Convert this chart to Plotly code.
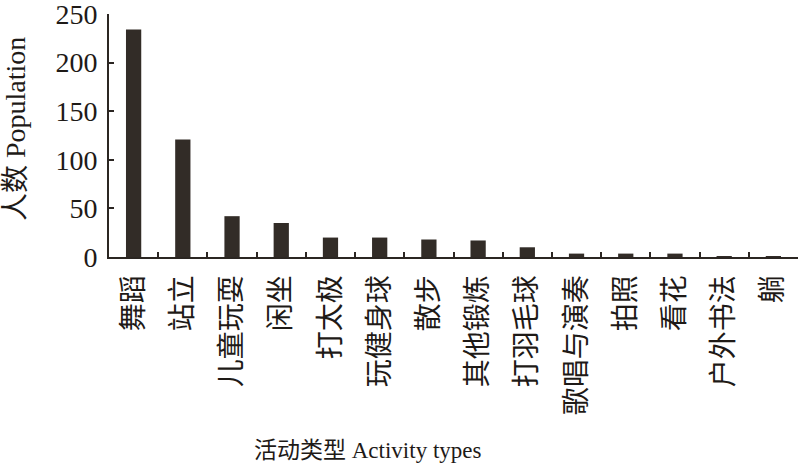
import plotly.graph_objects as go

categories = ["舞蹈", "站立", "儿童玩耍", "闲坐", "打太极", "玩健身球", "散步",
              "其他锻炼", "打羽毛球", "歌唱与演奏", "拍照", "看花", "户外书法", "躺"]
population = [234, 121, 42, 35, 20, 20, 18, 17, 10, 3.5, 3.5, 3.5, 1, 1]
y_ticks = [0, 50, 100, 150, 200, 250]

FONT = "Liberation Serif, Times New Roman, Noto Sans CJK SC, serif"
INK = "#2b2622"

fig = go.Figure(go.Bar(
    x=categories, y=population,
    marker=dict(color="#322c27", line=dict(width=0)),
))

fig.update_layout(
    width=800, height=468,
    margin=dict(l=109, r=2, t=14, b=211, autoexpand=False),
    paper_bgcolor="white", plot_bgcolor="white",
    bargap=0.69,
    showlegend=False,
    font=dict(family=FONT, color="#1e1a17"),
)

fig.update_xaxes(
    type="category",
    tickangle=-90,
    tickfont=dict(size=28, family=FONT),
    ticks="inside", tickson="boundaries", ticklen=5, tickwidth=1.5, tickcolor=INK,
    showline=True, linecolor=INK, linewidth=2,
    showgrid=False, zeroline=False,
    ticklabelstandoff=5,
    ticklabeloverflow="allow",
    automargin=False,
)

fig.update_yaxes(
    range=[0, 250],
    tickvals=y_ticks,
    tickfont=dict(size=28, family=FONT),
    ticks="inside", ticklen=5, tickwidth=1.5, tickcolor=INK,
    showline=True, linecolor=INK, linewidth=2,
    showgrid=False, zeroline=False,
    ticklabelstandoff=4,
    ticklabeloverflow="allow",
    automargin=False,
)

fig.add_annotation(
    text="人数 Population", xref="paper", yref="paper",
    x=(15 - 109) / 689, y=(257 - 129) / 243, xanchor="center", yanchor="middle",
    textangle=-90, showarrow=False,
    font=dict(size=28, family=FONT),
)
fig.add_annotation(
    text="活动类型 Activity types", xref="paper", yref="paper",
    x=(367 - 109) / 689, y=-(450 - 257) / 243, xanchor="center", yanchor="middle",
    showarrow=False,
    font=dict(size=23, family=FONT),
)

fig.write_html("out.html", config={"displayModeBar": False},
               post_script="document.body.style.margin='0';")
